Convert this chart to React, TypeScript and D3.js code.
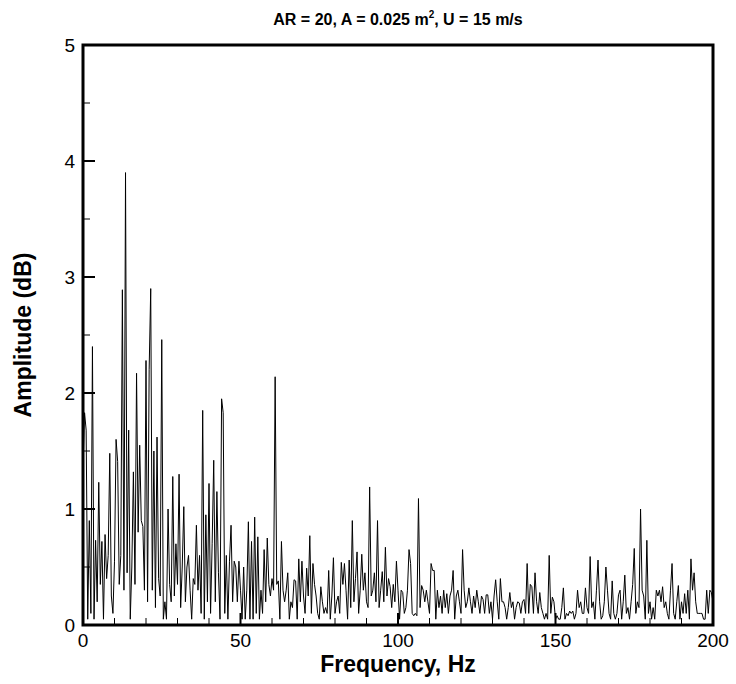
import React from "react";
import * as d3 from "d3";

// Frequency step of the spectrum (Hz) and amplitudes (dB), one row per 10 Hz
const freqStep = 0.5;
const amplitude: number[] = [
  1.35,1.83,1.68,0.05,0.9,0.1,2.40,0.05,0.73,0.2,1.23,0.35,0.72,0.05,0.78,0.4,0.6,1.48,0.25,0.1,
  0.55,1.6,1.41,0.35,0.6,2.89,0.3,3.9,0.45,1.68,0.05,0.5,1.32,0.35,2.17,0.8,1.55,0.9,0.85,0.3,
  2.28,0.2,2.2,2.9,0.3,1.5,0.15,1.62,0.4,0.25,2.46,0.05,0.2,0.05,1.0,0.35,0.2,1.28,0.25,0.7,
  0.35,1.3,0.15,0.5,1.02,0.2,0.5,0.6,0.3,0.05,0.4,0.35,0.86,0.3,0.6,0.1,1.85,0.05,0.95,0.2,
  1.22,0.1,0.7,1.42,0.2,1.15,0.45,0.05,1.95,1.83,0.1,0.6,0.05,0.55,0.86,0.2,0.55,0.5,0.2,0.55,
  0.3,0.05,0.5,0.05,0.3,0.89,0.05,0.72,0.05,0.93,0.1,0.76,0.05,0.3,0.1,0.65,0.2,0.75,0.35,0.25,
  0.4,0.3,2.14,0.35,0.38,0.05,0.72,0.3,0.2,0.3,0.45,0.05,0.2,0.15,0.39,0.38,0.05,0.57,0.2,0.55,
  0.25,0.1,0.49,0.25,0.77,0.1,0.53,0.35,0.25,0.1,0.05,0.33,0.2,0.1,0.15,0.1,0.47,0.05,0.25,0.58,
  0.1,0.2,0.25,0.1,0.54,0.35,0.53,0.3,0.05,0.56,0.15,0.9,0.2,0.4,0.63,0.1,0.3,0.61,0.3,0.45,
  0.2,0.15,1.19,0.25,0.3,0.45,0.2,0.9,0.15,0.3,0.46,0.2,0.67,0.25,0.4,0.33,0.15,0.35,0.2,0.55,
  0.3,0.05,0.3,0.28,0.1,0.15,0.3,0.65,0.53,0.1,0.08,0.1,0.08,1.09,0.15,0.34,0.3,0.2,0.3,0.2,
  0.1,0.53,0.47,0.47,0.05,0.3,0.15,0.25,0.1,0.3,0.15,0.27,0.1,0.25,0.3,0.47,0.05,0.25,0.3,0.2,
  0.1,0.65,0.3,0.15,0.2,0.32,0.2,0.1,0.25,0.15,0.3,0.2,0.1,0.25,0.22,0.1,0.26,0.26,0.1,0.2,
  0.05,0.25,0.39,0.2,0.05,0.4,0.2,0.2,0.15,0.05,0.15,0.28,0.15,0.2,0.05,0.15,0.2,0.19,0.1,0.2,
  0.22,0.1,0.53,0.1,0.35,0.33,0.1,0.45,0.2,0.1,0.28,0.15,0.1,0.05,0.1,0.05,0.6,0.1,0.24,0.2,
  0.05,0.08,0.05,0.05,0.15,0.32,0.05,0.1,0.08,0.12,0.1,0.12,0.05,0.1,0.3,0.15,0.2,0.1,0.1,0.32,
  0.15,0.1,0.59,0.15,0.2,0.05,0.3,0.56,0.2,0.05,0.08,0.2,0.5,0.3,0.1,0.05,0.38,0.1,0.05,0.1,
  0.26,0.3,0.05,0.2,0.43,0.1,0.15,0.05,0.2,0.35,0.66,0.1,0.2,0.15,1.0,0.3,0.25,0.05,0.73,0.1,
  0.2,0.05,0.15,0.05,0.3,0.25,0.3,0.2,0.33,0.15,0.2,0.1,0.05,0.3,0.53,0.1,0.05,0.2,0.34,0.05,
  0.2,0.1,0.27,0.1,0.3,0.05,0.57,0.3,0.45,0.2,0.1,0.1,0.1,0.1,0.05,0.05,0.3,0.1,0.3,0.28,
  0.2,
];

const xMajorTicks = [0, 50, 100, 150, 200];
const xMinorTicks = [10, 20, 30, 40, 60, 70, 80, 90, 110, 120, 130, 140, 160, 170, 180, 190];
const yMajorTicks = [0, 1, 2, 3, 4, 5];
const yMinorTicks = [0.5, 1.5, 2.5, 3.5, 4.5];

const W = 736;
const H = 684;
const M = { left: 83, right: 713, top: 45, bottom: 625 };
const FONT = "'Liberation Sans', Arial, Helvetica, sans-serif";

export default function App() {
  const x = d3.scaleLinear().domain([0, 200]).range([M.left, M.right]);
  const y = d3.scaleLinear().domain([0, 5]).range([M.bottom, M.top]);
  const pts: [number, number][] = amplitude.map((v, i) => [i * freqStep, v]);
  const line = d3
    .line<[number, number]>()
    .x((d) => x(d[0]))
    .y((d) => y(d[1]));

  return (
    <svg
      width={W}
      height={H}
      style={{ position: "absolute", left: 0, top: 0, background: "#fff" }}
      fontFamily={FONT}
    >
      <rect x={0} y={0} width={W} height={H} fill="#fff" />
      <defs>
        <clipPath id="plotclip">
          <rect x={M.left} y={M.top} width={M.right - M.left} height={M.bottom - M.top} />
        </clipPath>
      </defs>
      <path d={line(pts) || ""} fill="none" stroke="#000" strokeWidth={1} clipPath="url(#plotclip)" />

      {/* y ticks */}
      {yMajorTicks.map((t) => (
        <line key={"ym" + t} x1={M.left} x2={M.left + 12} y1={y(t)} y2={y(t)} stroke="#000" strokeWidth={2} />
      ))}
      {yMinorTicks.map((t) => (
        <line key={"yn" + t} x1={M.left} x2={M.left + 7} y1={y(t)} y2={y(t)} stroke="#000" strokeWidth={1} />
      ))}
      {/* x ticks */}
      {xMajorTicks.map((t) => (
        <line key={"xm" + t} x1={x(t)} x2={x(t)} y1={M.bottom} y2={M.bottom - 12} stroke="#000" strokeWidth={2} />
      ))}
      {xMinorTicks.map((t) => (
        <line key={"xn" + t} x1={x(t)} x2={x(t)} y1={M.bottom} y2={M.bottom - 7} stroke="#000" strokeWidth={1} />
      ))}

      <rect
        x={M.left}
        y={M.top}
        width={M.right - M.left}
        height={M.bottom - M.top}
        fill="none"
        stroke="#000"
        strokeWidth={3}
      />

      {yMajorTicks.map((t) => (
        <text key={"yl" + t} x={M.left - 8} y={y(t)} dy="0.36em" textAnchor="end" fontSize={19} fill="#000">
          {t}
        </text>
      ))}
      {xMajorTicks.map((t) => (
        <text key={"xl" + t} x={x(t)} y={M.bottom + 22} textAnchor="middle" fontSize={19} fill="#000">
          {t}
        </text>
      ))}

      <text x={(M.left + M.right) / 2} y={M.bottom + 47} textAnchor="middle" fontSize={23} fontWeight="bold" fill="#000">
        Frequency, Hz
      </text>
      <text
        transform={`translate(${31},${(M.top + M.bottom) / 2}) rotate(-90)`}
        textAnchor="middle"
        fontSize={23}
        fontWeight="bold"
        fill="#000"
      >
        Amplitude (dB)
      </text>
      <text x={(M.left + M.right) / 2} y={25} textAnchor="middle" fontSize={16} fontWeight="bold" fill="#000">
        AR = 20, A = 0.025 m
        <tspan dy={-7} fontSize={10}>2</tspan>
        <tspan dy={7}>, U = 15 m/s</tspan>
      </text>
    </svg>
  );
}
